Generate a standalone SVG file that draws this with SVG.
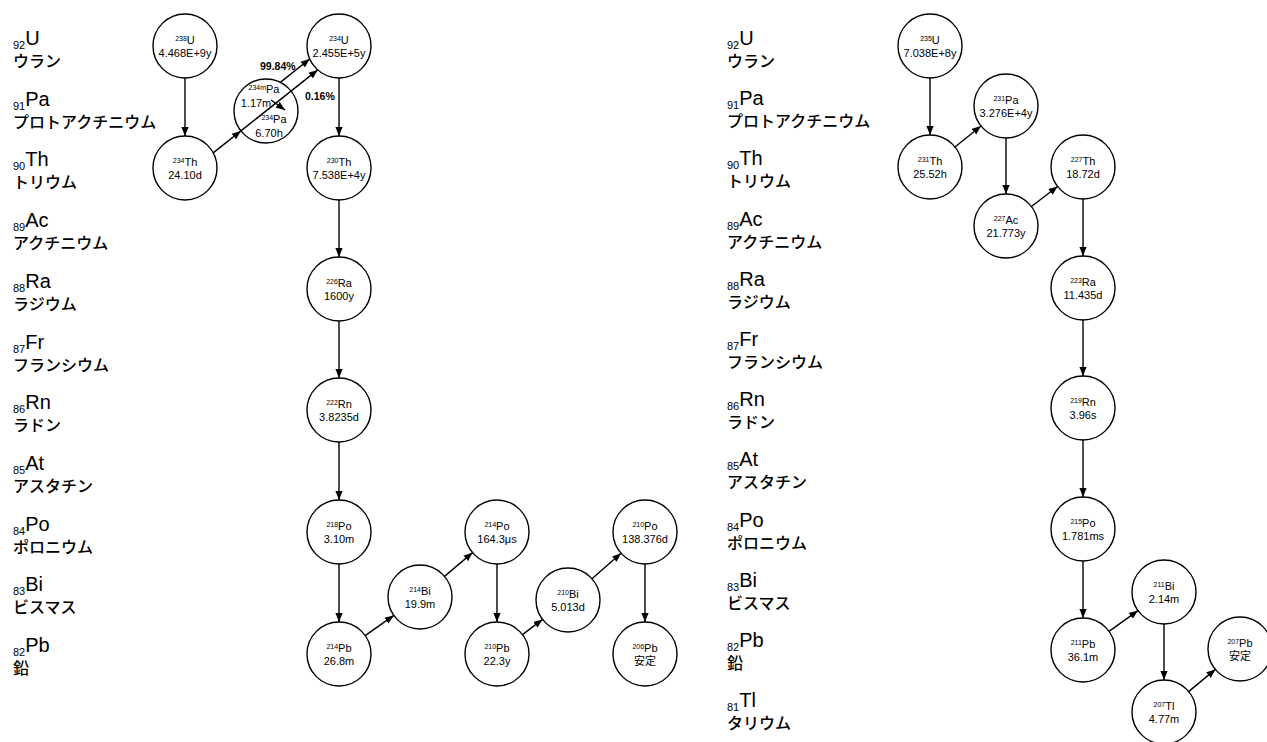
<svg xmlns="http://www.w3.org/2000/svg" width="1267" height="742" viewBox="0 0 1267 742">
<style>
.n circle{fill:#fff;stroke:#000;stroke-width:1.4}
.n text{font-family:"Liberation Sans",Arial,"Noto Sans CJK JP",sans-serif;font-size:11px;text-anchor:middle;fill:#000}
.n .sup{font-size:7px}
.edges line{stroke:#000;stroke-width:1.4;marker-end:url(#ah)}
.lab text{font-family:"Liberation Sans",Arial,"Noto Sans CJK JP",sans-serif;fill:#000}
.lab .sub{font-size:11px}
.lab .sym{font-size:20px}
.lab .jp{font-size:16px;font-family:"Noto Sans CJK JP",sans-serif;font-weight:500}
.pct{font-family:"Liberation Sans",Arial,sans-serif;font-weight:bold;font-size:10.5px;fill:#000}
</style>
<defs>
<marker id="ah" viewBox="0 0 10 8" refX="10" refY="4" markerWidth="9" markerHeight="8" markerUnits="userSpaceOnUse" orient="auto"><path d="M0,0L10,4L0,8z" fill="#000"/></marker>
</defs>
<rect width="1267" height="742" fill="#fff"/>

<g id="labels-left" class="lab">
<text x="13" y="49"><tspan class="sub">92</tspan><tspan class="sym" dy="-4">U</tspan></text><text class="jp" x="13" y="67">ウラン</text>
<text x="13" y="109.7"><tspan class="sub">91</tspan><tspan class="sym" dy="-4">Pa</tspan></text><text class="jp" x="13" y="127.7">プロトアクチニウム</text>
<text x="13" y="170.4"><tspan class="sub">90</tspan><tspan class="sym" dy="-4">Th</tspan></text><text class="jp" x="13" y="188.4">トリウム</text>
<text x="13" y="231.1"><tspan class="sub">89</tspan><tspan class="sym" dy="-4">Ac</tspan></text><text class="jp" x="13" y="249.1">アクチニウム</text>
<text x="13" y="291.8"><tspan class="sub">88</tspan><tspan class="sym" dy="-4">Ra</tspan></text><text class="jp" x="13" y="309.8">ラジウム</text>
<text x="13" y="352.5"><tspan class="sub">87</tspan><tspan class="sym" dy="-4">Fr</tspan></text><text class="jp" x="13" y="370.5">フランシウム</text>
<text x="13" y="413.2"><tspan class="sub">86</tspan><tspan class="sym" dy="-4">Rn</tspan></text><text class="jp" x="13" y="431.2">ラドン</text>
<text x="13" y="473.9"><tspan class="sub">85</tspan><tspan class="sym" dy="-4">At</tspan></text><text class="jp" x="13" y="491.9">アスタチン</text>
<text x="13" y="534.6"><tspan class="sub">84</tspan><tspan class="sym" dy="-4">Po</tspan></text><text class="jp" x="13" y="552.6">ポロニウム</text>
<text x="13" y="595.3"><tspan class="sub">83</tspan><tspan class="sym" dy="-4">Bi</tspan></text><text class="jp" x="13" y="613.3">ビスマス</text>
<text x="13" y="656"><tspan class="sub">82</tspan><tspan class="sym" dy="-4">Pb</tspan></text><text class="jp" x="13" y="674">鉛</text>
</g>

<g id="labels-right" class="lab">
<text x="727" y="49"><tspan class="sub">92</tspan><tspan class="sym" dy="-4">U</tspan></text><text class="jp" x="727" y="67">ウラン</text>
<text x="727" y="109.2"><tspan class="sub">91</tspan><tspan class="sym" dy="-4">Pa</tspan></text><text class="jp" x="727" y="127.2">プロトアクチニウム</text>
<text x="727" y="169.4"><tspan class="sub">90</tspan><tspan class="sym" dy="-4">Th</tspan></text><text class="jp" x="727" y="187.4">トリウム</text>
<text x="727" y="229.6"><tspan class="sub">89</tspan><tspan class="sym" dy="-4">Ac</tspan></text><text class="jp" x="727" y="247.6">アクチニウム</text>
<text x="727" y="289.8"><tspan class="sub">88</tspan><tspan class="sym" dy="-4">Ra</tspan></text><text class="jp" x="727" y="307.8">ラジウム</text>
<text x="727" y="350"><tspan class="sub">87</tspan><tspan class="sym" dy="-4">Fr</tspan></text><text class="jp" x="727" y="368">フランシウム</text>
<text x="727" y="410.2"><tspan class="sub">86</tspan><tspan class="sym" dy="-4">Rn</tspan></text><text class="jp" x="727" y="428.2">ラドン</text>
<text x="727" y="470.4"><tspan class="sub">85</tspan><tspan class="sym" dy="-4">At</tspan></text><text class="jp" x="727" y="488.4">アスタチン</text>
<text x="727" y="530.6"><tspan class="sub">84</tspan><tspan class="sym" dy="-4">Po</tspan></text><text class="jp" x="727" y="548.6">ポロニウム</text>
<text x="727" y="590.8"><tspan class="sub">83</tspan><tspan class="sym" dy="-4">Bi</tspan></text><text class="jp" x="727" y="608.8">ビスマス</text>
<text x="727" y="651"><tspan class="sub">82</tspan><tspan class="sym" dy="-4">Pb</tspan></text><text class="jp" x="727" y="669">鉛</text>
<text x="727" y="711.2"><tspan class="sub">81</tspan><tspan class="sym" dy="-4">Tl</tspan></text><text class="jp" x="727" y="729.2">タリウム</text>
</g>

<g id="U238" class="n"><circle cx="185" cy="46" r="32"/><text x="185" y="43.5"><tspan class="sup" dy="-3">238</tspan><tspan dy="3">U</tspan></text><text x="185" y="57">4.468E+9y</text></g>
<g id="Th234" class="n"><circle cx="185" cy="168" r="32"/><text x="185" y="165.5"><tspan class="sup" dy="-3">234</tspan><tspan dy="3">Th</tspan></text><text x="185" y="179">24.10d</text></g>
<g id="Pa234" class="n"><circle cx="266" cy="111" r="32"/><text x="264" y="93"><tspan class="sup" dy="-3">234m</tspan><tspan dy="3">Pa</tspan></text><text x="256" y="107">1.17m</text><text x="274" y="123"><tspan class="sup" dy="-3">234</tspan><tspan dy="3">Pa</tspan></text><text x="269" y="137">6.70h</text></g>
<g id="U234" class="n"><circle cx="339" cy="46" r="32"/><text x="339" y="43.5"><tspan class="sup" dy="-3">234</tspan><tspan dy="3">U</tspan></text><text x="339" y="57">2.455E+5y</text></g>
<g id="Th230" class="n"><circle cx="339" cy="168" r="32"/><text x="339" y="165.5"><tspan class="sup" dy="-3">230</tspan><tspan dy="3">Th</tspan></text><text x="339" y="179">7.538E+4y</text></g>
<g id="Ra226" class="n"><circle cx="339" cy="289" r="32"/><text x="339" y="286.5"><tspan class="sup" dy="-3">226</tspan><tspan dy="3">Ra</tspan></text><text x="339" y="300">1600y</text></g>
<g id="Rn222" class="n"><circle cx="339" cy="410" r="32"/><text x="339" y="407.5"><tspan class="sup" dy="-3">222</tspan><tspan dy="3">Rn</tspan></text><text x="339" y="421">3.8235d</text></g>
<g id="Po218" class="n"><circle cx="339" cy="532" r="32"/><text x="339" y="529.5"><tspan class="sup" dy="-3">218</tspan><tspan dy="3">Po</tspan></text><text x="339" y="543">3.10m</text></g>
<g id="Pb214" class="n"><circle cx="339" cy="654" r="32"/><text x="339" y="651.5"><tspan class="sup" dy="-3">214</tspan><tspan dy="3">Pb</tspan></text><text x="339" y="665">26.8m</text></g>
<g id="Bi214" class="n"><circle cx="420" cy="597" r="32"/><text x="420" y="594.5"><tspan class="sup" dy="-3">214</tspan><tspan dy="3">Bi</tspan></text><text x="420" y="608">19.9m</text></g>
<g id="Po214" class="n"><circle cx="497" cy="532" r="32"/><text x="497" y="529.5"><tspan class="sup" dy="-3">214</tspan><tspan dy="3">Po</tspan></text><text x="497" y="543">164.3μs</text></g>
<g id="Pb210" class="n"><circle cx="497" cy="654" r="32"/><text x="497" y="651.5"><tspan class="sup" dy="-3">210</tspan><tspan dy="3">Pb</tspan></text><text x="497" y="665">22.3y</text></g>
<g id="Bi210" class="n"><circle cx="568" cy="600" r="32"/><text x="568" y="597.5"><tspan class="sup" dy="-3">210</tspan><tspan dy="3">Bi</tspan></text><text x="568" y="611">5.013d</text></g>
<g id="Po210" class="n"><circle cx="645" cy="532" r="32"/><text x="645" y="529.5"><tspan class="sup" dy="-3">210</tspan><tspan dy="3">Po</tspan></text><text x="645" y="543">138.376d</text></g>
<g id="Pb206" class="n"><circle cx="645" cy="654" r="32"/><text x="645" y="651.5"><tspan class="sup" dy="-3">206</tspan><tspan dy="3">Pb</tspan></text><text x="645" y="665">安定</text></g>

<g id="U235" class="n"><circle cx="930" cy="46" r="32"/><text x="930" y="43.5"><tspan class="sup" dy="-3">235</tspan><tspan dy="3">U</tspan></text><text x="930" y="57">7.038E+8y</text></g>
<g id="Th231" class="n"><circle cx="930" cy="167" r="32"/><text x="930" y="164.5"><tspan class="sup" dy="-3">231</tspan><tspan dy="3">Th</tspan></text><text x="930" y="178">25.52h</text></g>
<g id="Pa231" class="n"><circle cx="1006" cy="106" r="32"/><text x="1006" y="103.5"><tspan class="sup" dy="-3">231</tspan><tspan dy="3">Pa</tspan></text><text x="1006" y="117">3.276E+4y</text></g>
<g id="Ac227" class="n"><circle cx="1006" cy="226" r="32"/><text x="1006" y="223.5"><tspan class="sup" dy="-3">227</tspan><tspan dy="3">Ac</tspan></text><text x="1006" y="237">21.773y</text></g>
<g id="Th227" class="n"><circle cx="1083" cy="167" r="32"/><text x="1083" y="164.5"><tspan class="sup" dy="-3">227</tspan><tspan dy="3">Th</tspan></text><text x="1083" y="178">18.72d</text></g>
<g id="Ra223" class="n"><circle cx="1083" cy="288" r="32"/><text x="1083" y="285.5"><tspan class="sup" dy="-3">223</tspan><tspan dy="3">Ra</tspan></text><text x="1083" y="299">11.435d</text></g>
<g id="Rn219" class="n"><circle cx="1083" cy="408" r="32"/><text x="1083" y="405.5"><tspan class="sup" dy="-3">219</tspan><tspan dy="3">Rn</tspan></text><text x="1083" y="419">3.96s</text></g>
<g id="Po215" class="n"><circle cx="1083" cy="529" r="32"/><text x="1083" y="526.5"><tspan class="sup" dy="-3">215</tspan><tspan dy="3">Po</tspan></text><text x="1083" y="540">1.781ms</text></g>
<g id="Pb211" class="n"><circle cx="1083" cy="650" r="32"/><text x="1083" y="647.5"><tspan class="sup" dy="-3">211</tspan><tspan dy="3">Pb</tspan></text><text x="1083" y="661">36.1m</text></g>
<g id="Bi211" class="n"><circle cx="1164" cy="592" r="32"/><text x="1164" y="589.5"><tspan class="sup" dy="-3">211</tspan><tspan dy="3">Bi</tspan></text><text x="1164" y="603">2.14m</text></g>
<g id="Tl207" class="n"><circle cx="1164" cy="712" r="32"/><text x="1164" y="709.5"><tspan class="sup" dy="-3">207</tspan><tspan dy="3">Tl</tspan></text><text x="1164" y="723">4.77m</text></g>
<g id="Pb207" class="n"><circle cx="1240" cy="649" r="32"/><text x="1240" y="646.5"><tspan class="sup" dy="-3">207</tspan><tspan dy="3">Pb</tspan></text><text x="1240" y="660">安定</text></g>

<g id="connectors" class="edges">
<line x1="185" y1="78" x2="185" y2="136"/>
<line x1="213.2" y1="152.9" x2="240.9" y2="130.9"/>
<line x1="240.9" y1="130.9" x2="317.7" y2="69.9"/>
<line x1="280.3" y1="82.4" x2="309.7" y2="59"/>
<line x1="271" y1="100" x2="285" y2="110"/>
<line x1="339" y1="78" x2="339" y2="136"/>
<line x1="339" y1="200" x2="339" y2="257"/>
<line x1="339" y1="321" x2="339" y2="378"/>
<line x1="339" y1="442" x2="339" y2="500"/>
<line x1="339" y1="564" x2="339" y2="622"/>
<line x1="365.2" y1="635.6" x2="393.8" y2="615.4"/>
<line x1="444.5" y1="576.4" x2="472.6" y2="552.6"/>
<line x1="497" y1="564" x2="497" y2="622"/>
<line x1="522.5" y1="634.6" x2="542.5" y2="619.4"/>
<line x1="592" y1="578.8" x2="621" y2="553.2"/>
<line x1="645" y1="564" x2="645" y2="622"/>
<line x1="930" y1="78" x2="930" y2="135"/>
<line x1="955" y1="147" x2="981" y2="126"/>
<line x1="1006" y1="138" x2="1006" y2="194"/>
<line x1="1031.4" y1="206.5" x2="1057.6" y2="186.5"/>
<line x1="1083" y1="199" x2="1083" y2="256"/>
<line x1="1083" y1="320" x2="1083" y2="376"/>
<line x1="1083" y1="440" x2="1083" y2="497"/>
<line x1="1083" y1="561" x2="1083" y2="618"/>
<line x1="1109" y1="631.4" x2="1138" y2="610.6"/>
<line x1="1164" y1="624" x2="1164" y2="680"/>
<line x1="1188.6" y1="691.6" x2="1215.4" y2="669.4"/>
<text class="pct" x="260" y="70">99.84%</text>
<text class="pct" x="305" y="100">0.16%</text>
</g>
</svg>
